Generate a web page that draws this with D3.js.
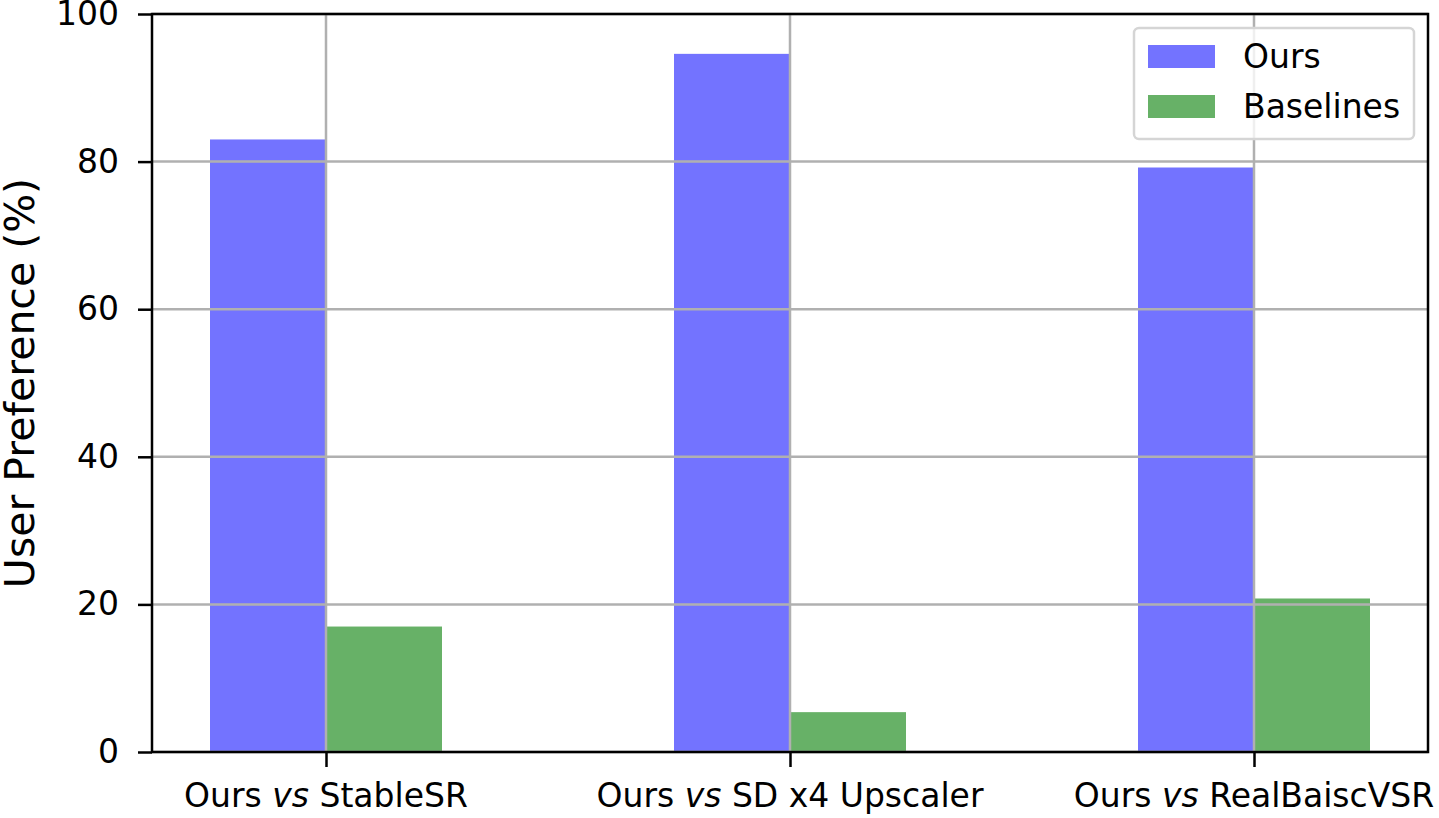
<!DOCTYPE html>
<html>
<head>
<meta charset="utf-8">
<script src="https://cdn.jsdelivr.net/npm/d3@7"></script>
<style>
  html, body { margin: 0; padding: 0; background: #fff; }
  svg { display: block; font-family: "DejaVu Sans", sans-serif; }
</style>
</head>
<body>
<svg id="chart" width="1439" height="818"></svg>
<script>
// chart data
const categories = ['StableSR', 'SD x4 Upscaler', 'RealBaiscVSR'];
const oursValues = [83.0, 94.6, 79.2];
const baselineValues = [17.0, 5.4, 20.8];
const seriesNames = ['Ours', 'Baselines'];
const yTicks = [0, 20, 40, 60, 80, 100];

const svg = d3.select('#chart');
const margin = { left: 152, right: 1428, top: 14, bottom: 752 };

const colors = { Ours: '#7373ff', Baselines: '#67b167' };
const gridColor = '#b0b0b0';
const fontSize = '33px';

// x in matplotlib-like data units: categories at 0,1,2, bars 0.25 wide
const x = d3.scaleLinear().domain([-0.375, 2.375]).range([margin.left, margin.right]);
const y = d3.scaleLinear().domain([0, 100]).range([margin.bottom, margin.top]);
const barW = 0.25;

const series = [
    { name: 'Ours', values: oursValues, offset: -barW },
    { name: 'Baselines', values: baselineValues, offset: 0 }
];

series.forEach(s => {
    svg.append('g')
        .selectAll('rect')
        .data(s.values)
        .enter()
        .append('rect')
        .attr('x', (d, i) => x(i + s.offset))
        .attr('width', x(barW) - x(0))
        .attr('y', d => y(d))
        .attr('height', d => y(0) - y(d))
        .attr('fill', colors[s.name]);
});

// grid lines (on top of bars, like the original)
const grid = svg.append('g');
grid.selectAll('line.h')
    .data(yTicks)
    .enter()
    .append('line')
    .attr('x1', margin.left).attr('x2', margin.right)
    .attr('y1', d => y(d)).attr('y2', d => y(d))
    .attr('stroke', gridColor).attr('stroke-width', 2.5);
grid.selectAll('line.v')
    .data(categories)
    .enter()
    .append('line')
    .attr('x1', (d, i) => x(i)).attr('x2', (d, i) => x(i))
    .attr('y1', margin.top).attr('y2', margin.bottom)
    .attr('stroke', gridColor).attr('stroke-width', 2.5);

// axes
const yAxis = d3.axisLeft(y).tickValues(yTicks).tickSize(14).tickPadding(19);
const yg = svg.append('g')
    .attr('transform', `translate(${margin.left},0)`)
    .call(yAxis);
yg.select('.domain').remove();
yg.selectAll('.tick line').attr('stroke', '#000').attr('stroke-width', 2.5);
yg.selectAll('.tick text')
    .attr('fill', '#000')
    .style('font-family', '"DejaVu Sans", sans-serif')
    .style('font-size', fontSize);

const xAxis = d3.axisBottom(x).tickValues([0, 1, 2]).tickSize(15).tickFormat(() => '');
const xg = svg.append('g')
    .attr('transform', `translate(0,${margin.bottom})`)
    .call(xAxis);
xg.select('.domain').remove();
xg.selectAll('.tick line').attr('stroke', '#000').attr('stroke-width', 2.5);
xg.selectAll('.tick text').remove();

// x tick labels with italic "vs"
const xLabels = svg.append('g');
categories.forEach((c, i) => {
    const t = xLabels.append('text')
        .attr('x', x(i))
        .attr('y', margin.bottom + 55)
        .attr('text-anchor', 'middle')
        .style('font-size', fontSize)
        .attr('fill', '#000');
    t.append('tspan').text('Ours ');
    t.append('tspan').attr('font-style', 'italic').text('vs');
    t.append('tspan').text(' ' + c);
});

// frame
svg.append('rect')
    .attr('x', margin.left).attr('y', margin.top)
    .attr('width', margin.right - margin.left)
    .attr('height', margin.bottom - margin.top)
    .attr('fill', 'none').attr('stroke', '#000').attr('stroke-width', 2.5);

// y label
svg.append('text')
    .attr('transform', `translate(34,${(margin.top + margin.bottom) / 2}) rotate(-90)`)
    .attr('text-anchor', 'middle')
    .style('font-size', '41px')
    .attr('fill', '#000')
    .text('User Preference (%)');

// legend
const legend = svg.append('g').attr('transform', 'translate(1134,28)');
legend.append('rect')
    .attr('width', 280).attr('height', 111)
    .attr('rx', 5)
    .attr('fill', 'rgba(255,255,255,0.8)')
    .attr('stroke', '#d5d5d5').attr('stroke-width', 2.5);
seriesNames.forEach((n, i) => {
    legend.append('rect')
        .attr('x', 14).attr('y', 17 + i * 50)
        .attr('width', 67).attr('height', 23)
        .attr('fill', colors[n]);
    legend.append('text')
        .attr('x', 109).attr('y', 40 + i * 50)
        .style('font-size', fontSize)
        .attr('fill', '#000')
        .text(n);
});
</script>
</body>
</html>
